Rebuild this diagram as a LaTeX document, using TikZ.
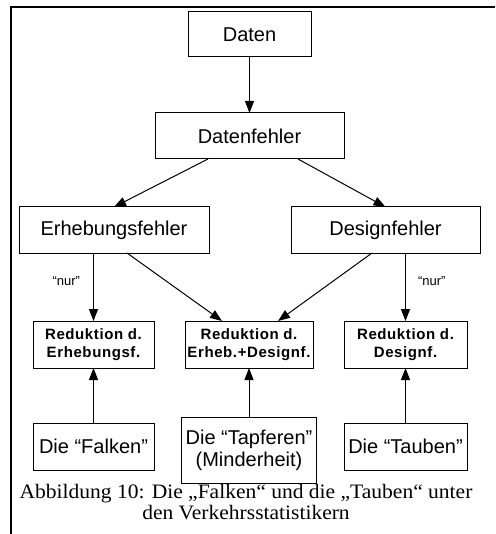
\documentclass[tikz,border=0pt]{standalone}
\usepackage{fontspec}
\setmainfont{Liberation Sans}
\newfontfamily\redfont[LetterSpace=4]{Liberation Sans}
\newfontfamily\capfont[FakeStretch=1.05]{Liberation Serif}
\usepackage{tikz}
\usetikzlibrary{arrows.meta,positioning}

\begin{document}
\begin{tikzpicture}[x=1pt,y=1pt,font=\fontsize{20}{22}\selectfont,
 box/.style={draw,line width=1pt,inner sep=0pt,outer sep=0pt,align=center,minimum height=46pt},
 redbox/.style={box,minimum height=47pt,font=\redfont\bfseries\fontsize{15}{17.5}\selectfont},
 nurlbl/.style={inner sep=0pt,font=\fontsize{13}{15}\selectfont},
 arrow/.style={-{Triangle[length=12pt,width=9pt]},line width=1pt}]
\useasboundingbox (0,0) rectangle (495,-534);
% frame
\draw[line width=2pt] (495,-7) -- (11,-7) -- (11,-534);
\node[box,minimum width=123pt,minimum height=45pt] (daten) at (249.5,-34.5) {Daten};
\node[box,minimum width=189pt,below=56pt of daten] (fehler) {Datenfehler};
\node[box,minimum width=190pt,below=48pt of fehler,xshift=-135.5pt] (erheb) {Erhebungsfehler};
\node[box,minimum width=189pt,right=82pt of erheb] (design) {Designfehler};
\node[redbox,minimum width=121pt,below=68pt of erheb,xshift=-20.5pt] (redE) {Reduktion d.\\Erhebungsf.};
\node[redbox,minimum width=128pt,right=31pt of redE] (redM) {Reduktion d.\\Erheb.+Designf.};
\node[redbox,minimum width=123pt,right=31pt of redM] (redD) {Reduktion d.\\Designf.};
\node[box,minimum width=121pt,minimum height=47pt,below=55pt of redE] (falken) {Die “Falken”};
\node[box,minimum width=135pt,minimum height=66pt,below=49pt of redM] (tapfer) {Die “Tapferen”\\(Minderheit)};
\node[box,minimum width=123pt,minimum height=47pt,below=55pt of redD] (tauben) {Die “Tauben”};
\node[inner sep=0pt,align=center,anchor=north,font=\capfont\fontsize{20.5}{21}\selectfont] (caption) at (246,-484)
 {Abbildung 10: Die „Falken“ und die „Tauben“ unter\\den Verkehrsstatistikern};
\draw[arrow] (daten)--(fehler);
\draw[arrow] ([xshift=-41.5pt]fehler.south)--(erheb.north);
\draw[arrow] ([xshift=48.5pt]fehler.south)--(design.north);
\draw[arrow] (redE.north |- erheb.south)--(redE.north) node[nurlbl,pos=0.42,left=13pt] (nurE) {“nur”};
\draw[arrow] ([xshift=13pt]erheb.south)--([xshift=-27pt]redM.north);
\draw[arrow] ([xshift=-13.5pt]design.south)--([xshift=29pt]redM.north);
\draw[arrow] (redD.north |- design.south)--(redD.north) node[nurlbl,pos=0.42,right=12pt] (nurD) {“nur”};
\draw[arrow] (falken)--(redE);
\draw[arrow] (tapfer)--(redM);
\draw[arrow] (tauben)--(redD);
\end{tikzpicture}
\end{document}
